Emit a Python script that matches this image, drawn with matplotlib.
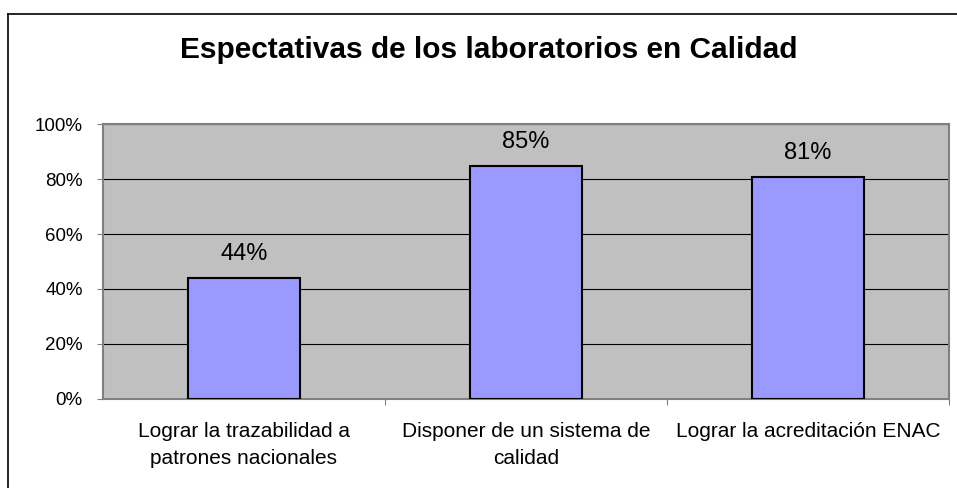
import matplotlib
matplotlib.use('Agg')
import matplotlib.pyplot as plt
from matplotlib.lines import Line2D
import numpy as np

plt.rcParams['font.family'] = ['Liberation Sans', 'DejaVu Sans']

# Chart data
categories = ['Lograr la trazabilidad a\npatrones nacionales',
              'Disponer de un sistema de\ncalidad',
              'Lograr la acreditación ENAC']
values = [44, 85, 81]
y_ticks = [0, 20, 40, 60, 80, 100]
y_tick_labels = ['0%', '20%', '40%', '60%', '80%', '100%']
title = 'Espectativas de los laboratorios en Calidad'

fig = plt.figure(figsize=(9.57, 4.88), dpi=100)
ax = fig.add_axes([0.1076, 0.1834, 0.8840, 0.5615])
ax.set_facecolor('#C0C0C0')

x = np.arange(len(categories))
ax.bar(x, values, width=0.40, color='#9999FF', edgecolor='black', linewidth=1.5, zorder=3)

# value labels above bars
for xi, v in zip(x, values):
    ax.text(xi, v + 6.4, f'{v}%', ha='center', va='baseline', fontsize=17)

ax.set_xlim(-0.5, len(categories) - 0.5)
ax.set_ylim(0, 100)
ax.set_yticks(y_ticks)
ax.set_yticklabels(y_tick_labels, fontsize=13.5)
ax.yaxis.grid(True, color='black', linewidth=0.8, zorder=1)
ax.set_axisbelow(True)

# category ticks sit between the categories, labels in the middle
ax.set_xticks(np.arange(len(categories)) + 0.5)
ax.set_xticklabels([])
ax.set_xticks(x, minor=True)
ax.set_xticklabels(categories, minor=True, fontsize=15, linespacing=1.5)
ax.tick_params(axis='x', which='minor', length=0, pad=17)
ax.tick_params(axis='x', which='major', length=4.5, width=0.8, color='#808080')
ax.tick_params(axis='y', length=4.5, width=0.8, color='#808080', pad=10)

for side in ['top', 'right', 'bottom', 'left']:
    ax.spines[side].set_color('#808080')
    ax.spines[side].set_linewidth(1.5)

fig.text(0.511, 1 - 58.3 / 488, title, ha='center', va='baseline', fontsize=21.5, fontweight='bold')

# outer chart frame (only left and top edges visible)
fig.add_artist(Line2D([8 / 957, 8 / 957], [0, 1 - 14 / 488], color='black', linewidth=1.2))
fig.add_artist(Line2D([8 / 957, 1], [1 - 14 / 488, 1 - 14 / 488], color='black', linewidth=1.2))

fig.savefig('out.png', dpi=100)
